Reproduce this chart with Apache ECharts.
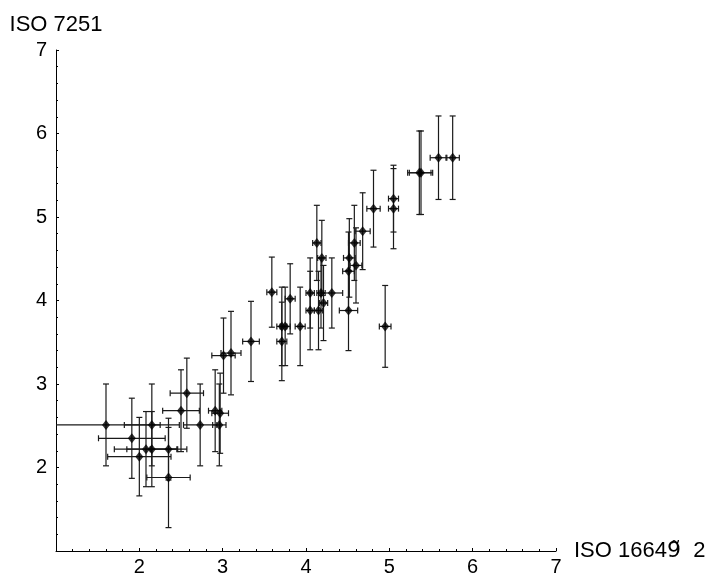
<!DOCTYPE html>
<html>
<head>
<meta charset="utf-8">
<script src="https://cdn.jsdelivr.net/npm/echarts@6/dist/echarts.min.js"></script>
<style>
html,body{margin:0;padding:0;background:#fff;}
#c{width:706px;height:576px;}
</style>
</head>
<body>
<div id="c"></div>
<script>
// ISO 16649-2 (x) vs ISO 7251 (y), with error bars
const xVals = [1.60, 2.15, 1.91, 2.08, 2.15, 2.35, 2.35, 2.00, 2.50, 2.73, 2.96, 2.91, 2.97, 2.57, 3.01, 3.10, 3.34,
  3.59, 3.71, 3.75, 3.71, 3.81, 3.93, 4.05, 4.05, 4.15, 4.18, 4.21, 4.31, 4.13, 4.19,
  4.51, 4.95, 4.51, 4.52, 4.58, 4.60, 4.68, 4.81, 5.05, 5.05, 5.36, 5.38, 5.59, 5.76];
const yVals = [2.51, 2.51, 2.35, 2.22, 2.22, 2.22, 1.88, 2.13, 2.68, 2.51, 2.51, 2.68, 2.65, 2.89, 3.34, 3.37, 3.51,
  4.10, 3.69, 3.69, 3.51, 4.02, 3.69, 4.09, 3.88, 3.88, 4.09, 3.97, 4.09, 4.69, 4.51,
  3.88, 3.69, 4.35, 4.51, 4.69, 4.42, 4.83, 5.10, 5.22, 5.10, 5.53, 5.53, 5.71, 5.71];
const xErr = [0.65, 0.33, 0.40, 0.38, 0.30, 0.22, 0.26, 0.38, 0.22, 0.20, 0.08, 0.08, 0.10, 0.20, 0.14, 0.12, 0.10,
  0.06, 0.06, 0.06, 0.06, 0.06, 0.06, 0.05, 0.05, 0.05, 0.05, 0.05, 0.13, 0.05, 0.05,
  0.11, 0.07, 0.07, 0.07, 0.07, 0.07, 0.09, 0.08, 0.06, 0.06, 0.14, 0.14, 0.10, 0.08];
const yErr = [0.49, 0.49, 0.48, 0.45, 0.45, 0.37, 0.60, 0.47, 0.49, 0.49, 0.49, 0.49, 0.48, 0.42, 0.45, 0.50, 0.48,
  0.42, 0.47, 0.47, 0.47, 0.42, 0.47, 0.42, 0.47, 0.47, 0.42, 0.45, 0.42, 0.45, 0.45,
  0.48, 0.49, 0.47, 0.47, 0.45, 0.45, 0.46, 0.46, 0.40, 0.48, 0.50, 0.50, 0.50, 0.50];
const tickLabels = ['2', '3', '4', '5', '6', '7'];
const xNameParts = ['ISO 1664', '9\u0303', '  2'];
const yName = 'ISO 7251';

const pts = xVals.map((x, i) => [x, yVals[i]]);
const errData = xVals.map((x, i) => [x, yVals[i], xErr[i], yErr[i]]);

const FONT = '"Liberation Sans", Arial, sans-serif';
function fmt(v) { const s = String(Math.round(v)); return tickLabels.indexOf(s) >= 0 ? s : ''; }

const axisCommon = {
  type: 'value', min: 1, max: 7, interval: 1,
  axisLine: { show: true, onZero: false, lineStyle: { color: '#000', width: 1 } },
  axisTick: { show: true, inside: true, length: 3, lineStyle: { color: '#000' } },
  minorTick: { show: true, splitNumber: 5, length: 2, lineStyle: { color: '#000' } },
  splitLine: { show: false },
  axisLabel: { color: '#000', fontSize: 20, fontFamily: FONT, formatter: fmt, showMinLabel: true, showMaxLabel: true }
};

function renderErr(params, api) {
  const x = api.value(0), y = api.value(1), ex = api.value(2), ey = api.value(3);
  const t = api.coord([x, y + ey]), b = api.coord([x, y - ey]);
  const l = api.coord([x - ex, y]), r = api.coord([x + ex, y]);
  const cap = 3;
  const st = { stroke: '#1a1a1a', lineWidth: 1.2 };
  const ln = (x1, y1, x2, y2) => ({ type: 'line', shape: { x1, y1, x2, y2 }, style: st });
  return {
    type: 'group',
    children: [
      ln(t[0], t[1], b[0], b[1]),
      ln(t[0] - cap, t[1], t[0] + cap, t[1]),
      ln(b[0] - cap, b[1], b[0] + cap, b[1]),
      ln(l[0], l[1], r[0], r[1]),
      ln(l[0], l[1] - cap, l[0], l[1] + cap),
      ln(r[0], r[1] - cap, r[0], r[1] + cap)
    ]
  };
}

const chart = echarts.init(document.getElementById('c'), null, { renderer: 'canvas' });
chart.setOption({
  animation: false,
  backgroundColor: '#fff',
  grid: { left: 56, top: 50, right: 150, bottom: 25, containLabel: false, outerBoundsMode: 'none' },
  xAxis: Object.assign({}, axisCommon, {
    name: '{a|' + xNameParts[0] + '}{b|' + xNameParts[1] + '}{a|' + xNameParts[2] + '}',
    nameLocation: 'end', nameGap: 18,
    nameTextStyle: {
      color: '#000', fontSize: 22, fontFamily: FONT,
      rich: {
        a: { color: '#000', fontSize: 22, fontFamily: FONT },
        b: { color: '#000', fontSize: 22, fontFamily: '"DejaVu Sans", sans-serif' }
      }
    },
    axisLabel: Object.assign({}, axisCommon.axisLabel, { margin: 6 })
  }),
  yAxis: Object.assign({}, axisCommon, {
    name: yName, nameLocation: 'end', nameGap: 14,
    nameTextStyle: { color: '#000', fontSize: 22, fontFamily: FONT },
    axisLabel: Object.assign({}, axisCommon.axisLabel, { margin: 9 })
  }),
  series: [
    { type: 'custom', renderItem: renderErr, data: errData, clip: true, encode: { x: 0, y: 1 }, z: 1 },
    { type: 'scatter', data: pts, symbol: 'diamond', symbolSize: [8, 10], itemStyle: { color: '#000' }, z: 2, clip: true }
  ]
});
</script>
</body>
</html>
